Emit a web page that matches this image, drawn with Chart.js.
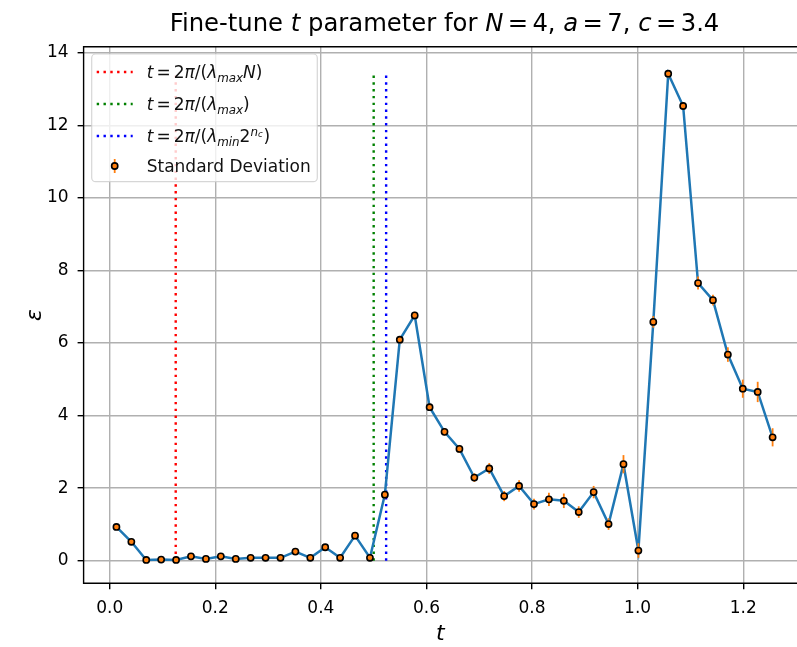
<!DOCTYPE html>
<html><head><meta charset="utf-8">
<script src="https://cdn.jsdelivr.net/npm/chart.js@4.4.0/dist/chart.umd.min.js"></script>
<style>
html,body{margin:0;padding:0;background:#fff;overflow:hidden;width:797px;height:647px}
#wrap{position:absolute;left:0;top:0;width:797px;height:647px}
</style>
</head><body><div id="wrap"><canvas id="c" width="797" height="647"></canvas></div>
<script>
// ---- data ----
const tValues = [0.0127, 0.04095, 0.0692, 0.09745, 0.1257, 0.15395, 0.1822, 0.21045, 0.2387, 0.26695,
  0.2952, 0.32345, 0.3517, 0.37995, 0.4082, 0.43645, 0.4647, 0.49295, 0.5212, 0.54945,
  0.5777, 0.60595, 0.6342, 0.66245, 0.6907, 0.71895, 0.7472, 0.77545, 0.8037, 0.83195,
  0.8602, 0.88845, 0.9167, 0.94495, 0.9732, 1.00145, 1.0297, 1.05795, 1.0862, 1.11445,
  1.1427, 1.17095, 1.1992, 1.22745, 1.2557];
const epsValues = [0.93, 0.52, 0.02, 0.03, 0.02, 0.12, 0.05, 0.12, 0.05, 0.08,
  0.08, 0.08, 0.25, 0.08, 0.37, 0.08, 0.69, 0.08, 1.82, 6.09,
  6.76, 4.23, 3.55, 3.08, 2.29, 2.54, 1.78, 2.06, 1.56, 1.69,
  1.65, 1.34, 1.89, 1.01, 2.66, 0.28, 6.58, 13.42, 12.53, 7.65,
  7.18, 5.68, 4.74, 4.65, 3.40];
const stdValues = [0.05, 0.05, 0.03, 0.03, 0.03, 0.04, 0.03, 0.04, 0.03, 0.04,
  0.04, 0.04, 0.06, 0.04, 0.06, 0.04, 0.08, 0.04, 0.1, 0.1,
  0.1, 0.1, 0.1, 0.11, 0.12, 0.15, 0.14, 0.16, 0.15, 0.18,
  0.2, 0.16, 0.17, 0.16, 0.25, 0.2, 0.16, 0.1, 0.1, 0.18,
  0.15, 0.2, 0.25, 0.28, 0.25];
const vlineRed = 0.125;    // 2*pi/(lambda_max N)
const vlineGreen = 0.5;    // 2*pi/lambda_max
const vlineBlue = 0.5236;  // 2*pi/(lambda_min 2^n_c)
const vlineTop = 13.42;
const xTicks = [0.0, 0.2, 0.4, 0.6, 0.8, 1.0, 1.2];
const yTicks = [0, 2, 4, 6, 8, 10, 12, 14];

// ---- styling / layout ----
const FONT = '"DejaVu Sans", sans-serif';
const AREA = {left: 83.6, right: 797, top: 46.7, bottom: 583.3};
const CW = 797, CH = 647;

const pts = tValues.map((t, i) => ({x: t, y: epsValues[i]}));
const vl = x => [{x: x, y: 0}, {x: x, y: vlineTop}];

function R(t){ return {t}; }
function I(t){ return {t, it:true}; }
const EQ = {t:'=', pre:0.18, gap:0.18};
function segFont(s, size){ return (s.it ? 'italic ' : '') + (size*(s.sc||1)).toFixed(2) + 'px ' + FONT; }
function measureRich(ctx, segs, size){
  let w = 0;
  for (const s of segs){ ctx.font = segFont(s, size); w += (s.pre||0)*size + ctx.measureText(s.t).width + (s.gap||0)*size; }
  return w;
}
function drawRich(ctx, segs, x, y, size){
  let cx = x;
  ctx.textAlign = 'left'; ctx.textBaseline = 'alphabetic';
  for (const s of segs){
    ctx.font = segFont(s, size);
    cx += (s.pre||0)*size;
    ctx.fillText(s.t, cx, y + (s.dy||0)*size);
    cx += ctx.measureText(s.t).width + (s.gap||0)*size;
  }
}

const titleSegs = [R('Fine-tune '), I('t'), R(' parameter for '), I('N'), EQ, R('4'), R(', '), I('a'), EQ, R('7'), R(', '), I('c'), EQ, R('3.4')];
const legendItems = [
  {kind:'line', color:'red', segs:[I('t'), EQ, R('2'), I('π'), R('/('), I('λ'), {t:'max', it:true, sc:0.7, dy:0.22}, I('N'), R(')')]},
  {kind:'line', color:'green', segs:[I('t'), EQ, R('2'), I('π'), R('/('), I('λ'), {t:'max', it:true, sc:0.7, dy:0.22}, R(')')]},
  {kind:'line', color:'blue', segs:[I('t'), EQ, R('2'), I('π'), R('/('), I('λ'), {t:'min', it:true, sc:0.7, dy:0.22}, R('2'), {t:'n', it:true, sc:0.7, dy:-0.38}, {t:'c', it:true, sc:0.5, dy:-0.28, gap:0.05}, R(')')]},
  {kind:'err', segs:[R('Standard Deviation')]}
];

const deco = {
  id: 'deco',
  afterDatasetDraw(chart, args){
    if (args.index !== 1) return;
    const {ctx, scales:{x, y}} = chart;
    ctx.save();
    ctx.strokeStyle = '#ff7f0e'; ctx.lineWidth = 1.8; ctx.lineCap = 'butt';
    tValues.forEach((t, i) => {
      const px = x.getPixelForValue(t);
      ctx.beginPath();
      ctx.moveTo(px, y.getPixelForValue(epsValues[i] - stdValues[i]));
      ctx.lineTo(px, y.getPixelForValue(epsValues[i] + stdValues[i]));
      ctx.stroke();
    });
    ctx.restore();
  },
  afterDatasetsDraw(chart){
    const {ctx, chartArea:a} = chart;
    ctx.save();
    ctx.strokeStyle = '#000'; ctx.lineWidth = 1.4; ctx.lineCap = 'square';
    ctx.beginPath();
    ctx.moveTo(a.right + 5, a.top); ctx.lineTo(a.left, a.top);
    ctx.lineTo(a.left, a.bottom); ctx.lineTo(a.right + 5, a.bottom);
    ctx.stroke();
    ctx.restore();
  },
  afterDraw(chart){
    const {ctx} = chart;
    ctx.save();
    ctx.fillStyle = '#000';
    // title (centred on the full axes box, whose right edge lies just past the window)
    const tsz = 24.3;
    const tw = measureRich(ctx, titleSegs, tsz);
    drawRich(ctx, titleSegs, 444.5 - tw/2, 31, tsz);
    // legend
    const L = {x: 91.7, y: 54, w: 225.6, h: 127.7};
    ctx.beginPath();
    ctx.roundRect(L.x, L.y, L.w, L.h, 4);
    ctx.fillStyle = 'rgba(255,255,255,0.8)'; ctx.fill();
    ctx.strokeStyle = 'rgba(204,204,204,0.8)'; ctx.lineWidth = 1.2; ctx.stroke();
    const rows = [72, 104, 136, 166];
    const lsz = 17;
    legendItems.forEach((it, k) => {
      const cy = rows[k];
      if (it.kind === 'line'){
        ctx.save();
        ctx.strokeStyle = it.color; ctx.lineWidth = 2.4; ctx.setLineDash([2.4, 4.4]);
        ctx.beginPath(); ctx.moveTo(96.7, cy); ctx.lineTo(132.7, cy); ctx.stroke();
        ctx.restore();
      } else {
        ctx.save();
        ctx.strokeStyle = '#ff7f0e'; ctx.lineWidth = 1.8;
        ctx.beginPath(); ctx.moveTo(114.7, cy - 7); ctx.lineTo(114.7, cy + 7); ctx.stroke();
        ctx.beginPath(); ctx.arc(114.7, cy, 3.1, 0, Math.PI*2);
        ctx.fillStyle = '#ff7f0e'; ctx.fill();
        ctx.strokeStyle = '#000'; ctx.lineWidth = 1.6; ctx.stroke();
        ctx.restore();
      }
      ctx.fillStyle = '#111';
      drawRich(ctx, it.segs, 146.7, cy + 6, lsz);
    });
    ctx.restore();
  }
};

const tickFont = {family: FONT, size: 17};
new Chart(document.getElementById('c'), {
  type: 'scatter',
  data: {
    datasets: [
      {label: 'Standard Deviation', data: pts, showLine: false, pointRadius: 3.1, pointBorderWidth: 1.6,
       pointBackgroundColor: '#ff7f0e', pointBorderColor: '#000', order: 0},
      {label: 'epsilon', data: pts, showLine: true, borderColor: '#1f77b4', borderWidth: 2.5, pointRadius: 0, order: 1},
      {label: 'red', data: vl(vlineRed), showLine: true, borderColor: 'red', borderWidth: 2.4, borderDash: [2.4, 4.4], pointRadius: 0, order: 2},
      {label: 'green', data: vl(vlineGreen), showLine: true, borderColor: 'green', borderWidth: 2.4, borderDash: [2.4, 4.4], pointRadius: 0, order: 2},
      {label: 'blue', data: vl(vlineBlue), showLine: true, borderColor: 'blue', borderWidth: 2.4, borderDash: [2.4, 4.4], pointRadius: 0, order: 2}
    ]
  },
  options: {
    responsive: false, animation: false, events: [],
    layout: {autoPadding: false, padding: {top: AREA.top, right: CW - AREA.right, left: 0, bottom: 0}},
    plugins: {legend: {display: false}, title: {display: false}, tooltip: {enabled: false}},
    scales: {
      x: {
        type: 'linear', min: -0.0495, max: 1.3019,
        afterBuildTicks: s => { s.ticks = xTicks.map(v => ({value: v})); },
        afterFit: s => { s.height = CH - AREA.bottom; s.paddingLeft = 0; s.paddingRight = 0; },
        ticks: {font: tickFont, color: '#000', padding: 9, maxRotation: 0, callback: v => v.toFixed(1)},
        grid: {color: '#b0b0b0', lineWidth: 1.4, tickLength: 6, tickColor: '#000', tickWidth: 1.4},
        border: {display: false},
        title: {display: true, text: 't', color: '#000', font: {family: FONT, size: 22, style: 'italic'}, padding: {top: 0, bottom: 0}}
      },
      y: {
        type: 'linear', min: -0.623, max: 14.164,
        afterBuildTicks: s => { s.ticks = yTicks.map(v => ({value: v})); },
        afterFit: s => { s.width = AREA.left; s.paddingTop = 0; s.paddingBottom = 0; },
        ticks: {font: tickFont, color: '#000', padding: 9, callback: v => String(v)},
        grid: {color: '#b0b0b0', lineWidth: 1.4, tickLength: 6, tickColor: '#000', tickWidth: 1.4},
        border: {display: false},
        title: {display: true, text: 'ε', color: '#000', font: {family: FONT, size: 22, style: 'italic'}, padding: {top: 22, bottom: 0}}
      }
    }
  },
  plugins: [deco]
});
</script>
</body></html>
